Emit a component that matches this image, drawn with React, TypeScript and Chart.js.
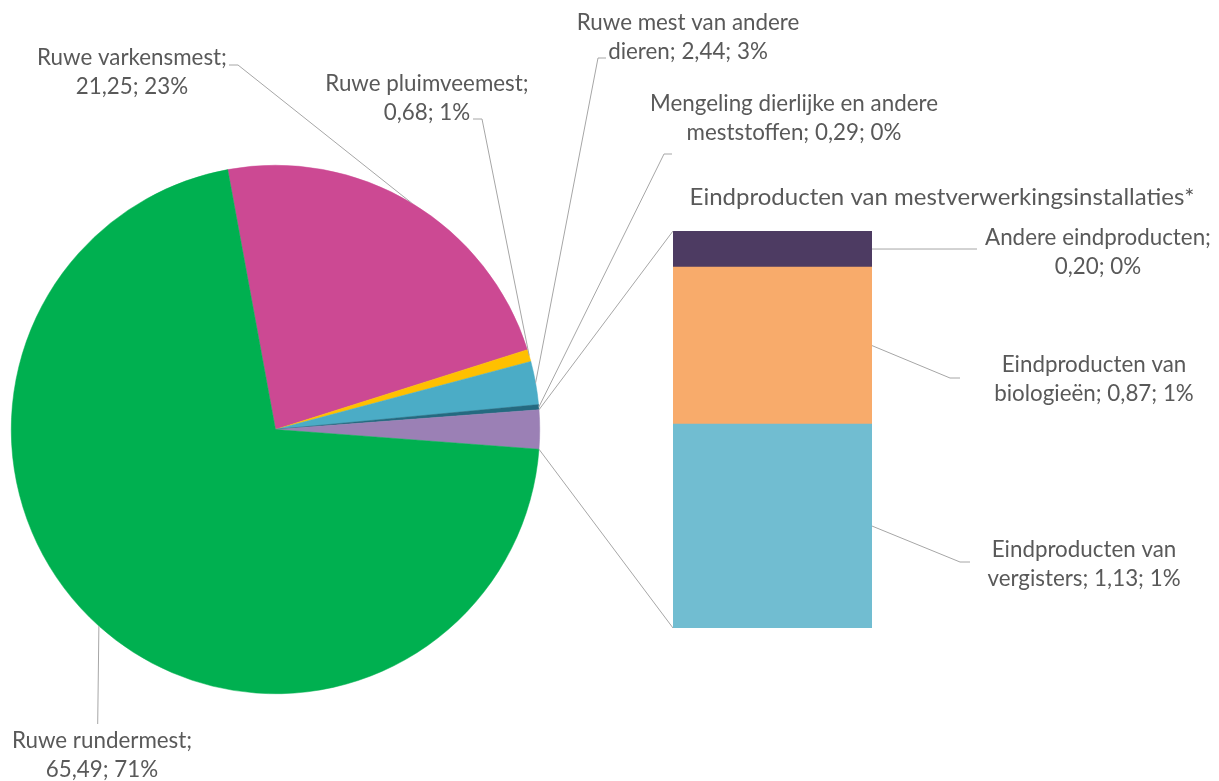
import React, { useEffect, useRef } from "react";
import { Chart, registerables } from "chart.js";

Chart.register(...registerables);

// ---------- DATA ----------
const rawNames = [
  "Ruwe varkensmest",
  "Ruwe pluimveemest",
  "Ruwe mest van andere dieren",
  "Mengeling dierlijke en andere meststoffen",
  "Ruwe rundermest",
];
const rawValues = [21.25, 0.68, 2.44, 0.29, 65.49];

const otherName = "Eindproducten van mestverwerkingsinstallaties*";
const barNames = [
  "Eindproducten van vergisters",
  "Eindproducten van biologieën",
  "Andere eindproducten",
];
const barValues = [1.13, 0.87, 0.2];

const rawColors = ["#CC4993", "#FFC000", "#4BACC6", "#246A80", "#00B050"];
const otherColor = "#9B80B5";
const barColors = ["#71BDD1", "#F8AB6B", "#4D3B62"];

// ---------- LAYOUT (annotation positions) ----------
const W = 1219;
const H = 781;
const TEXT = "#595959";
const LINE = "#A6A6A6";
const LINE_H = 28.5;
const FONT = "Lato, 'Open Sans', sans-serif";

// label layout for pie slices in rawNames order: center x, first line y, words on line 1, leader path after slice edge
const rawLabelLayout = [
  { x: 132, y: 58, split: 2, path: [[238, 65], [229, 65]] },
  { x: 427, y: 84, split: 2, path: [[482, 119], [473, 119]] },
  { x: 688, y: 23, split: 4, path: [[598, 58], [606, 58]] },
  { x: 794, y: 104, split: 4, path: [[664, 154], [672, 154]] },
  { x: 102, y: 741, split: 2, path: [[97.7, 724]] },
];
const barLabelLayout = [
  { x: 1084, y: 550, split: 2, path: [[960, 562], [970, 562]] },
  { x: 1094, y: 365, split: 2, path: [[950, 378], [960, 378]] },
  { x: 1098, y: 238, split: 2, path: [[977, 249]] },
];
const titlePos = { x: 942, y: 197 };

// ---------- helpers ----------
const otherTotal = barValues.reduce((a, b) => a + b, 0);
const grandTotal = rawValues.reduce((a, b) => a + b, 0) + otherTotal;

const pieValues = [...rawValues.slice(0, 4), otherTotal, rawValues[4]];
const pieNames = [...rawNames.slice(0, 4), otherName, rawNames[4]];
const pieColors = [...rawColors.slice(0, 4), otherColor, rawColors[4]];
const otherIndex = 4;

// Excel's bar-of-pie centres the "other" slice at 3 o'clock
const beforeOther = pieValues.slice(0, otherIndex).reduce((a, b) => a + b, 0);
const rotationDeg = 90 - ((beforeOther + otherTotal / 2) / grandTotal) * 360;

function labelLines(name: string, v: number, split: number): string[] {
  const txt = `${name}; ${v.toFixed(2).replace(".", ",")}; ${Math.round((v / grandTotal) * 100)}%`;
  const words = txt.split(" ");
  return [words.slice(0, split).join(" "), words.slice(split).join(" ")];
}

function fitFont(ctx: CanvasRenderingContext2D, sample: string, target: number) {
  ctx.font = `100px ${FONT}`;
  const w = ctx.measureText(sample).width;
  return (100 * target) / w;
}

function drawText(ctx: CanvasRenderingContext2D, lines: string[], x: number, y: number, size: number) {
  ctx.save();
  ctx.font = `${size}px ${FONT}`;
  ctx.fillStyle = TEXT;
  ctx.textAlign = "center";
  ctx.textBaseline = "middle";
  lines.forEach((l, i) => ctx.fillText(l, x, y + i * LINE_H));
  ctx.restore();
}

function drawPath(ctx: CanvasRenderingContext2D, pts: number[][]) {
  ctx.save();
  ctx.strokeStyle = LINE;
  ctx.lineWidth = 1;
  ctx.beginPath();
  pts.forEach((p, i) => (i === 0 ? ctx.moveTo(p[0], p[1]) : ctx.lineTo(p[0], p[1])));
  ctx.stroke();
  ctx.restore();
}

export default function App() {
  const pieRef = useRef<HTMLCanvasElement>(null);
  const barRef = useRef<HTMLCanvasElement>(null);

  useEffect(() => {
    if (!pieRef.current || !barRef.current) return;

    const pieLabelsPlugin = {
      id: "pieLabels",
      afterDraw(chart: any) {
        const ctx = chart.ctx as CanvasRenderingContext2D;
        const arcs = chart.getDatasetMeta(0).data;
        const size = fitFont(ctx, "Ruwe varkensmest;", 190);
        rawNames.forEach((name, ri) => {
          const pi = ri < otherIndex ? ri : ri + 1;
          const arc: any = arcs[pi];
          const mid = (arc.startAngle + arc.endAngle) / 2;
          const ex = arc.x + Math.cos(mid) * arc.outerRadius;
          const ey = arc.y + Math.sin(mid) * arc.outerRadius;
          const lay = rawLabelLayout[ri];
          drawPath(ctx, [[ex, ey], ...lay.path]);
          drawText(ctx, labelLines(name, rawValues[ri], lay.split), lay.x, lay.y, size);
        });
      },
    };

    const pie = new Chart(pieRef.current, {
      type: "pie",
      data: {
        labels: pieNames,
        datasets: [
          {
            data: pieValues,
            backgroundColor: pieColors,
            borderColor: pieColors,
            borderWidth: 0.5,
          },
        ],
      },
      options: {
        responsive: false,
        animation: false,
        rotation: rotationDeg,
        layout: { padding: { left: 11, top: 165, right: W - 540, bottom: H - 694 } },
        plugins: { legend: { display: false }, tooltip: { enabled: false }, title: { display: false } },
      },
      plugins: [pieLabelsPlugin],
    });

    const barLabelsPlugin = {
      id: "barLabels",
      afterDraw(chart: any) {
        const ctx = chart.ctx as CanvasRenderingContext2D;
        const size = fitFont(ctx, "Ruwe varkensmest;", 190);
        // connectors from "other" slice to the bar
        const arc: any = pie.getDatasetMeta(0).data[otherIndex];
        const ca = chart.chartArea;
        drawPath(ctx, [
          [arc.x + Math.cos(arc.startAngle) * arc.outerRadius, arc.y + Math.sin(arc.startAngle) * arc.outerRadius],
          [ca.left, ca.top],
        ]);
        drawPath(ctx, [
          [arc.x + Math.cos(arc.endAngle) * arc.outerRadius, arc.y + Math.sin(arc.endAngle) * arc.outerRadius],
          [ca.left, ca.bottom],
        ]);
        barNames.forEach((name, i) => {
          const el: any = chart.getDatasetMeta(i).data[0];
          const right = el.x + el.width / 2;
          const midY = (el.y + el.base) / 2;
          const lay = barLabelLayout[i];
          drawPath(ctx, [[right, midY], ...lay.path]);
          drawText(ctx, labelLines(name, barValues[i], lay.split), lay.x, lay.y, size);
        });
        const tsize = fitFont(ctx, otherName, 505);
        drawText(ctx, [otherName], titlePos.x, titlePos.y, tsize);
      },
    };

    const bar = new Chart(barRef.current, {
      type: "bar",
      data: {
        labels: [otherName],
        datasets: barNames.map((n, i) => ({
          label: n,
          data: [barValues[i]],
          backgroundColor: barColors[i],
          borderWidth: 0,
          barPercentage: 1,
          categoryPercentage: 1,
        })),
      },
      options: {
        responsive: false,
        animation: false,
        layout: { padding: { left: 673, top: 231, right: W - 872, bottom: H - 628 } },
        scales: {
          x: { stacked: true, display: false },
          y: { stacked: true, display: false, min: 0, max: otherTotal },
        },
        plugins: { legend: { display: false }, tooltip: { enabled: false }, title: { display: false } },
      },
      plugins: [barLabelsPlugin],
    });

    return () => {
      bar.destroy();
      pie.destroy();
    };
  }, []);

  const canvasStyle: React.CSSProperties = { position: "absolute", left: 0, top: 0, width: W, height: H, display: "block" };
  return (
    <div style={{ position: "absolute", left: 0, top: 0, width: W, height: H, background: "#fff", overflow: "hidden" }}>
      <canvas ref={pieRef} width={W} height={H} style={canvasStyle} />
      <canvas ref={barRef} width={W} height={H} style={canvasStyle} />
    </div>
  );
}
